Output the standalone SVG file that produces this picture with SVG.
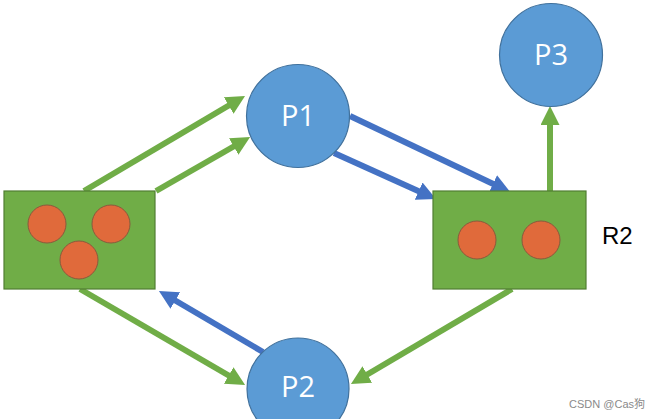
<svg xmlns="http://www.w3.org/2000/svg" width="660" height="419" viewBox="0 0 660 419">
<style>
.res{fill:#70AD47;stroke:#507E32;stroke-width:1.2}
.dot{fill:#E06A3B;stroke:#8A5A3C;stroke-width:1}
.proc{fill:#5B9BD5;stroke:#41719C;stroke-width:1.2}
.lbl{font-family:"Open Sans","Liberation Sans",sans-serif;font-size:29px;fill:#ffffff;text-anchor:middle}
.g{stroke:#70AD47;stroke-width:6;fill:none;marker-end:url(#ag)}
.b{stroke:#4472C4;stroke-width:6;fill:none;marker-end:url(#ab)}
</style>
<defs>
<marker id="ag" markerUnits="userSpaceOnUse" markerWidth="19" markerHeight="19" viewBox="0 0 19 19" refX="5" refY="9.5" orient="auto"><path d="M0,0 L19,9.5 L0,19 Z" fill="#70AD47"/></marker>
<marker id="ab" markerUnits="userSpaceOnUse" markerWidth="19" markerHeight="19" viewBox="0 0 19 19" refX="5" refY="9.5" orient="auto"><path d="M0,0 L19,9.5 L0,19 Z" fill="#4472C4"/></marker>
</defs>
<rect width="660" height="419" fill="#ffffff"/>
<g id="connectors">
<line class="g" x1="84" y1="191" x2="233" y2="103"/>
<line class="g" x1="156" y1="191" x2="238" y2="144"/>
<line class="b" x1="350" y1="116" x2="497.5" y2="186"/>
<line class="b" x1="334" y1="153" x2="423.2" y2="193.2"/>
<line class="g" x1="550" y1="191" x2="550" y2="120"/>
<line class="b" x1="263" y1="352" x2="171" y2="298"/>
<line class="g" x1="80" y1="289" x2="233" y2="378"/>
<line class="g" x1="512" y1="289" x2="363" y2="377"/>
</g>
<g id="R1">
<rect class="res" x="4" y="191" width="151" height="98"/>
<circle class="dot" cx="47" cy="224" r="19"/>
<circle class="dot" cx="111" cy="224" r="19"/>
<circle class="dot" cx="79" cy="260" r="19"/>
</g>
<g id="R2">
<rect class="res" x="433" y="191" width="153" height="98"/>
<circle class="dot" cx="477" cy="240" r="19"/>
<circle class="dot" cx="541" cy="240" r="19"/>
<text x="602" y="244" font-family="Liberation Sans, sans-serif" font-size="24" fill="#000000">R2</text>
</g>
<g id="P1">
<circle class="proc" cx="298" cy="116" r="51.5"/>
<text class="lbl" x="298" y="126">P1</text>
</g>
<g id="P2">
<circle class="proc" cx="298" cy="389" r="51"/>
<text class="lbl" x="298" y="397">P2</text>
</g>
<g id="P3">
<circle class="proc" cx="551" cy="55" r="51.5"/>
<text class="lbl" x="551" y="65">P3</text>
</g>
<text x="645" y="408" font-family="Liberation Sans, Noto Sans CJK SC, sans-serif" font-size="11" fill="#8a8a8a" text-anchor="end">CSDN @Cas狗</text>
</svg>
